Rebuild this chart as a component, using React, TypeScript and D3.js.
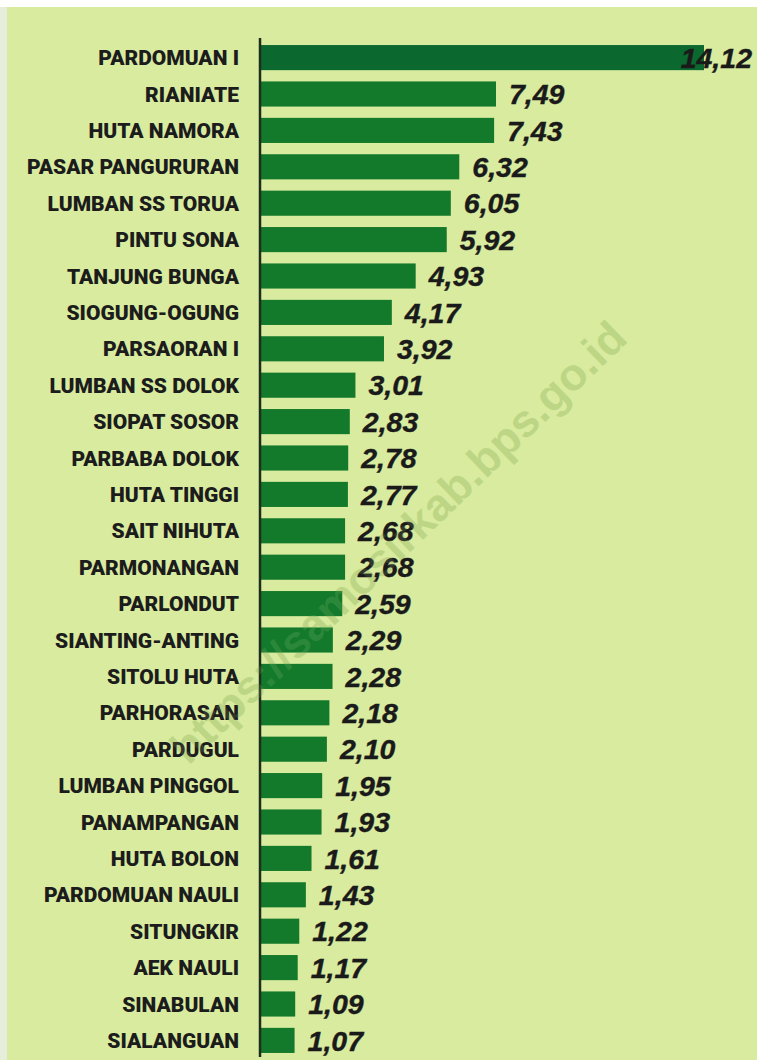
import React from 'react';
import * as d3 from 'd3';

const villages = [
  'PARDOMUAN I', 'RIANIATE', 'HUTA NAMORA', 'PASAR PANGURURAN', 'LUMBAN SS TORUA',
  'PINTU SONA', 'TANJUNG BUNGA', 'SIOGUNG-OGUNG', 'PARSAORAN I', 'LUMBAN SS DOLOK',
  'SIOPAT SOSOR', 'PARBABA DOLOK', 'HUTA TINGGI', 'SAIT NIHUTA', 'PARMONANGAN',
  'PARLONDUT', 'SIANTING-ANTING', 'SITOLU HUTA', 'PARHORASAN', 'PARDUGUL',
  'LUMBAN PINGGOL', 'PANAMPANGAN', 'HUTA BOLON', 'PARDOMUAN NAULI', 'SITUNGKIR',
  'AEK NAULI', 'SINABULAN', 'SIALANGUAN',
];
const values = [
  14.12, 7.49, 7.43, 6.32, 6.05, 5.92, 4.93, 4.17, 3.92, 3.01,
  2.83, 2.78, 2.77, 2.68, 2.68, 2.59, 2.29, 2.28, 2.18, 2.10,
  1.95, 1.93, 1.61, 1.43, 1.22, 1.17, 1.09, 1.07,
];
const watermark = 'https://samosirkab.bps.go.id';

const width = 757;
const height = 1060;

export default function App() {
  const rows = villages.map((name, i) => ({ name, value: values[i] }));

  const x = d3.scaleLinear()
    .domain([0, d3.max(values) as number])
    .range([261, 704]);

  const y = d3.scaleBand()
    .domain(villages)
    .range([39.4, 1058.6])
    .paddingInner(0.31)
    .paddingOuter(0.155);

  const fmt = (v: number) => d3.format('.2f')(v).replace('.', ',');
  const labelRight = 752;

  return (
    <>
      <style>{'body{margin:0}'}</style>
      <svg width={width} height={height} style={{ display: 'block' }}>
        <rect x={0} y={0} width={width} height={height} fill="#ffffff" />
        <rect x={0} y={7} width={7} height={height - 7} fill="#e6eedb" />
        <rect x={7} y={7} width={width - 7} height={height - 7} fill="#d8eb9f" />

        <text
          transform="translate(398,542) rotate(-44)"
          textAnchor="middle"
          dy="0.35em"
          fontFamily="'Liberation Sans', Arial, sans-serif"
          fontWeight={700}
          fontSize={45}
          fill="#8fb35a"
          opacity={0.4}
        >
          {watermark}
        </text>

        {rows.map((d, i) => {
          const cy = (y(d.name) as number) + y.bandwidth() / 2;
          const end = x(d.value);
          const fits = end + 13 + 76 <= labelRight;
          return (
            <g key={d.name}>
              <rect
                x={x(0)}
                y={y(d.name)}
                width={end - x(0)}
                height={y.bandwidth()}
                fill={i === 0 ? '#0b692f' : '#13792b'}
              />
              <text
                x={239}
                y={cy}
                dy="0.36em"
                textAnchor="end"
                fontFamily="Roboto, 'Liberation Sans', sans-serif"
                fontWeight={900}
                fontSize={21}
                fill="#1c1c1c"
              >
                {d.name}
              </text>
              <text
                x={fits ? end + 13 : labelRight}
                y={cy}
                dy="0.36em"
                textAnchor={fits ? 'start' : 'end'}
                fontFamily="'Liberation Sans', Arial, sans-serif"
                fontWeight={700}
                fontStyle="italic"
                fontSize={28.5}
                fill="#1a1a1a"
                stroke="#1a1a1a"
                strokeWidth={0.4}
              >
                {fmt(d.value)}
              </text>
            </g>
          );
        })}

        <line x1={260} x2={260} y1={38} y2={1057} stroke="#1e2e1c" strokeWidth={2.5} />

        <text
          transform="translate(398,542) rotate(-44)"
          textAnchor="middle"
          dy="0.35em"
          fontFamily="'Liberation Sans', Arial, sans-serif"
          fontWeight={700}
          fontSize={45}
          fill="#d8eb9f"
          opacity={0.12}
        >
          {watermark}
        </text>
      </svg>
    </>
  );
}
